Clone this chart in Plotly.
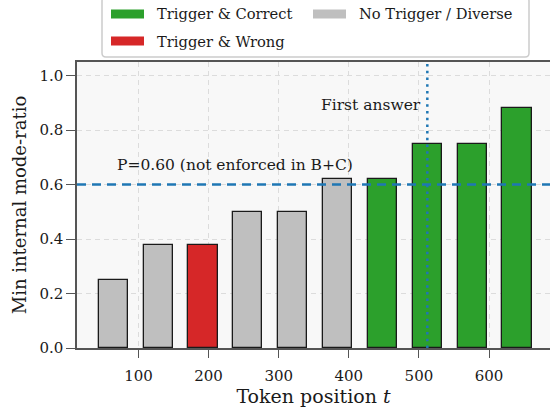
import plotly.graph_objects as go

# ---- data ----
positions = [64, 128, 192, 256, 320, 384, 448, 512, 576, 640]
values = [0.25, 0.38, 0.38, 0.50, 0.50, 0.62, 0.62, 0.75, 0.75, 0.88]
categories = ["none", "none", "wrong", "none", "none", "none",
              "correct", "correct", "correct", "correct"]
legend_labels = {"correct": "Trigger & Correct",
                 "wrong": "Trigger & Wrong",
                 "none": "No Trigger / Diverse"}
threshold = 0.60
first_answer = 512
x_ticks = [100, 200, 300, 400, 500, 600]
y_ticks = [0.0, 0.2, 0.4, 0.6, 0.8, 1.0]

colors = {"correct": "#2ca02c", "wrong": "#d62728", "none": "#bfbfbf"}
FONT = "DejaVu Serif"
BLUE = "#1f77b4"

fig = go.Figure()
for cat in ["correct", "wrong", "none"]:
    xs = [p for p, c in zip(positions, categories) if c == cat]
    ys = [v for v, c in zip(values, categories) if c == cat]
    fig.add_trace(go.Bar(
        x=xs, y=ys, width=41.6, name=legend_labels[cat],
        marker=dict(color=colors[cat], line=dict(color="#1a1a1a", width=1.3)),
        showlegend=False,
    ))

# reference lines
fig.add_shape(type="line", xref="paper", yref="y", x0=0, x1=1, y0=threshold, y1=threshold,
              line=dict(color=BLUE, width=2.5, dash="9px,6px"), layer="above")
fig.add_shape(type="line", xref="x", yref="paper", x0=first_answer, x1=first_answer, y0=0, y1=1,
              line=dict(color=BLUE, width=2.5, dash="2.5px,4.2px"), layer="above")

fig.add_annotation(x=66, y=0.672, xref="x", yref="y", text="P=0.60 (not enforced in B+C)",
                   showarrow=False, xanchor="left", yanchor="middle",
                   font=dict(family=FONT, size=15.5, color="#1a1a1a"))
fig.add_annotation(x=506, y=0.893, xref="x", yref="y", text="First answer",
                   showarrow=False, xanchor="right", yanchor="middle",
                   font=dict(family=FONT, size=15.5, color="#1a1a1a"))

# ---- manual legend (paper coords) ----
L, T, B, R = 77, 62, 348, 550
PW, PH = R - L, B - T
def px(xp): return (xp - L) / PW
def py(yp): return (B - yp) / PH

bx0, bx1, by0, by1 = px(102), px(529), py(-3), py(57)
rx, ry = 4 / PW, 4 / PH
path = (f"M {bx0+rx},{by0} L {bx1-rx},{by0} Q {bx1},{by0} {bx1},{by0-ry} "
        f"L {bx1},{by1+ry} Q {bx1},{by1} {bx1-rx},{by1} L {bx0+rx},{by1} "
        f"Q {bx0},{by1} {bx0},{by1+ry} L {bx0},{by0-ry} Q {bx0},{by0} {bx0+rx},{by0} Z")
fig.add_shape(type="path", xref="paper", yref="paper", path=path,
              fillcolor="white", line=dict(color="#cccccc", width=1.5), layer="above")

entries = [("correct", 111, 155, 14), ("wrong", 111, 155, 41), ("none", 313, 357, 14)]
for cat, patch_x, text_x, yc in entries:
    fig.add_shape(type="rect", xref="paper", yref="paper",
                  x0=px(patch_x), x1=px(patch_x + 33), y0=py(yc + 4.5), y1=py(yc - 4.5),
                  fillcolor=colors[cat], line=dict(width=0), layer="above")
    fig.add_annotation(x=px(text_x), y=py(yc), xref="paper", yref="paper",
                       text=legend_labels[cat], showarrow=False,
                       xanchor="left", yanchor="middle",
                       font=dict(family=FONT, size=14.7, color="#1a1a1a"))

fig.update_layout(
    width=550, height=414,
    margin=dict(l=L, r=0, t=T, b=414 - B),
    paper_bgcolor="white", plot_bgcolor="#f8f8f8",
    font=dict(family=FONT, color="#1a1a1a"),
    bargap=0,
    showlegend=False,
)
fig.update_xaxes(
    range=[12.3, 687], tickvals=x_ticks, ticktext=[str(t) for t in x_ticks],
    ticks="outside", ticklen=8, tickcolor="#555555", tickwidth=1.2,
    showline=True, linecolor="#555555", linewidth=1.5, mirror=True,
    showgrid=True, gridcolor="#dcdcdc", griddash="5px,4px", gridwidth=1,
    zeroline=False, tickfont=dict(size=15), ticklabelstandoff=5,
    title=dict(text="Token position <i>t</i>", font=dict(size=19), standoff=6),
)
fig.update_yaxes(
    range=[0, 1.05], tickvals=y_ticks, ticktext=[f"{t:.1f}" for t in y_ticks],
    ticks="outside", ticklen=9, tickcolor="#555555", tickwidth=1.2,
    showline=True, linecolor="#555555", linewidth=1.5,
    showgrid=True, gridcolor="#dcdcdc", griddash="5px,4px", gridwidth=1,
    zeroline=False, tickfont=dict(size=15),
    title=dict(text="Min internal mode-ratio", font=dict(size=18), standoff=8),
)

fig.write_html("out.html")
